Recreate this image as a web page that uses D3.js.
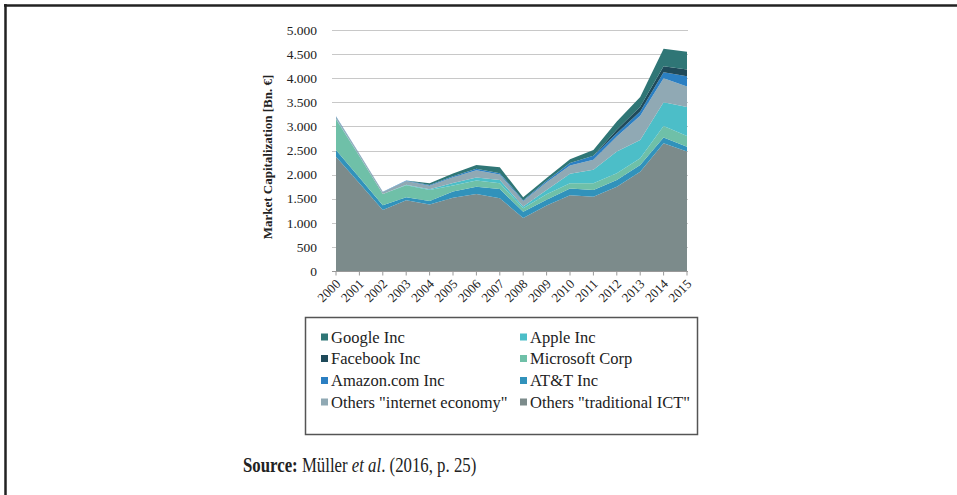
<!DOCTYPE html>
<html>
<head>
<meta charset="utf-8">
<script src="https://cdn.jsdelivr.net/npm/d3@7"></script>
<style>
  html, body { margin: 0; padding: 0; background: #fff; }
  svg { display: block; }
  text { font-family: "Liberation Serif", "Times New Roman", serif; fill: #222; }
</style>
</head>
<body>
<svg id="chart" width="957" height="495"></svg>
<script>
// ---- data (Bn. €) ----
const years = [2000, 2001, 2002, 2003, 2004, 2005, 2006, 2007, 2008, 2009, 2010, 2011, 2012, 2013, 2014, 2015];
const othersTraditional = [2370, 1820, 1265, 1470, 1380, 1520, 1600, 1510, 1100, 1360, 1570, 1540, 1750, 2060, 2650, 2480];
const att              = [140, 120, 100, 60, 70, 130, 150, 190, 130, 120, 140, 140, 140, 140, 120, 100];
const microsoft        = [640, 440, 230, 250, 230, 125, 130, 120, 70, 110, 110, 140, 140, 140, 240, 220];
const apple            = [10, 5, 5, 10, 15, 50, 60, 70, 40, 90, 200, 280, 450, 380, 490, 600];
const othersInternet   = [40, 40, 40, 75, 75, 120, 150, 110, 110, 160, 170, 210, 310, 500, 500, 430];
const amazon           = [10, 5, 5, 15, 15, 20, 30, 30, 20, 30, 50, 80, 70, 90, 125, 210];
const facebook         = [0, 0, 0, 0, 0, 0, 0, 0, 0, 0, 0, 0, 70, 100, 125, 140];
const google           = [0, 0, 0, 0, 35, 60, 80, 120, 60, 60, 80, 120, 170, 200, 360, 370];
const yTicks = [0, 500, 1000, 1500, 2000, 2500, 3000, 3500, 4000, 4500, 5000];
const yTickLabels = ["0", "500", "1.000", "1.500", "2.000", "2.500", "3.000", "3.500", "4.000", "4.500", "5.000"];

// series, bottom to top of the stack
const seriesNames = ['Others "traditional ICT"', "AT&T Inc", "Microsoft Corp", "Apple Inc",
                     'Others "internet economy"', "Amazon.com Inc", "Facebook Inc", "Google Inc"];
const seriesValues = [othersTraditional, att, microsoft, apple, othersInternet, amazon, facebook, google];
const seriesColors = ["#7c8b8b", "#3192bb", "#6fc0a8", "#4cbec8", "#90a9b4", "#2b7fc2", "#1f4a5a", "#2f7676"];
// legend order (column-major as in the figure)
const legendCol1 = ["Google Inc", "Facebook Inc", "Amazon.com Inc", 'Others "internet economy"'];
const legendCol2 = ["Apple Inc", "Microsoft Corp", "AT&T Inc", 'Others "traditional ICT"'];

const table = years.map((yr, i) => {
  const row = { year: yr };
  seriesNames.forEach((n, k) => row[n] = seriesValues[k][i]);
  return row;
});

const svg = d3.select("#chart");

// outer frame (top and left edges)
svg.append("line").attr("x1", 4).attr("x2", 957).attr("y1", 5.5).attr("y2", 5.5)
  .attr("stroke", "#222").attr("stroke-width", 2.5);
svg.append("line").attr("x1", 5.5).attr("x2", 5.5).attr("y1", 4).attr("y2", 495)
  .attr("stroke", "#222").attr("stroke-width", 2.5);

const x = d3.scaleLinear().domain([2000, 2015]).range([336, 687]);
const y = d3.scaleLinear().domain([0, 5000]).range([271, 30]);

// gridlines
svg.append("g").selectAll("line").data(yTicks.filter(d => d > 0)).join("line")
  .attr("x1", 332).attr("x2", 688)
  .attr("y1", d => Math.round(y(d)) + 0.5).attr("y2", d => Math.round(y(d)) + 0.5)
  .attr("stroke", "#c8c8c8").attr("stroke-width", 1);

// stacked areas
const stack = d3.stack().keys(seriesNames);
const layers = stack(table);
const area = d3.area()
  .x(d => x(d.data.year))
  .y0(d => y(d[0]))
  .y1(d => y(d[1]))
  .curve(d3.curveLinear);
svg.append("g").selectAll("path").data(layers).join("path")
  .attr("d", area)
  .attr("fill", (d, i) => seriesColors[i]);

// x axis
const xAxisG = svg.append("g").attr("transform", `translate(0,${Math.round(y(0)) + 0.5})`);
xAxisG.append("line").attr("x1", 332).attr("x2", 688).attr("stroke", "#999");
xAxisG.selectAll("line.tick").data(years).join("line").attr("class", "tick")
  .attr("x1", d => x(d)).attr("x2", d => x(d)).attr("y1", 0).attr("y2", 4)
  .attr("stroke", "#999");
xAxisG.selectAll("text").data(years).join("text")
  .attr("transform", d => `translate(${x(d) + 2},10) rotate(-45)`)
  .attr("text-anchor", "end")
  .attr("dy", "0.35em")
  .style("font-size", "13px")
  .text(d => d);

// y axis labels
svg.append("g").selectAll("text").data(yTicks).join("text")
  .attr("x", 317).attr("y", d => y(d)).attr("dy", "0.35em")
  .attr("text-anchor", "end")
  .style("font-size", "13.5px")
  .text((d, i) => yTickLabels[i]);

// y axis title
svg.append("text")
  .attr("transform", "translate(272,157) rotate(-90)")
  .attr("text-anchor", "middle")
  .style("font-size", "13px").style("font-weight", "bold")
  .text("Market Capitalization [Bn. €]");

// legend
const lg = svg.append("g");
lg.append("rect").attr("x", 305.5).attr("y", 317.5).attr("width", 392).attr("height", 117)
  .attr("fill", "none").attr("stroke", "#555").attr("stroke-width", 1.5);
const rowY = [337, 358.5, 380.5, 402];
function legendColumn(names, sx, tx) {
  names.forEach((n, r) => {
    const idx = seriesNames.indexOf(n);
    lg.append("rect").attr("x", sx).attr("y", rowY[r] - 3.5).attr("width", 7).attr("height", 7)
      .attr("fill", seriesColors[idx]);
    lg.append("text").attr("x", tx).attr("y", rowY[r]).attr("dy", "0.35em")
      .style("font-size", "16.5px").text(n);
  });
}
legendColumn(legendCol1, 321, 331);
legendColumn(legendCol2, 520, 530);

// source
const src = svg.append("text").attr("transform", "translate(243,472) scale(0.8,1)")
  .style("font-size", "21px");
src.append("tspan").style("font-weight", "bold").text("Source:");
src.append("tspan").text(" Müller ");
src.append("tspan").style("font-style", "italic").text("et al");
src.append("tspan").text(". (2016, p. 25)");
</script>
</body>
</html>
